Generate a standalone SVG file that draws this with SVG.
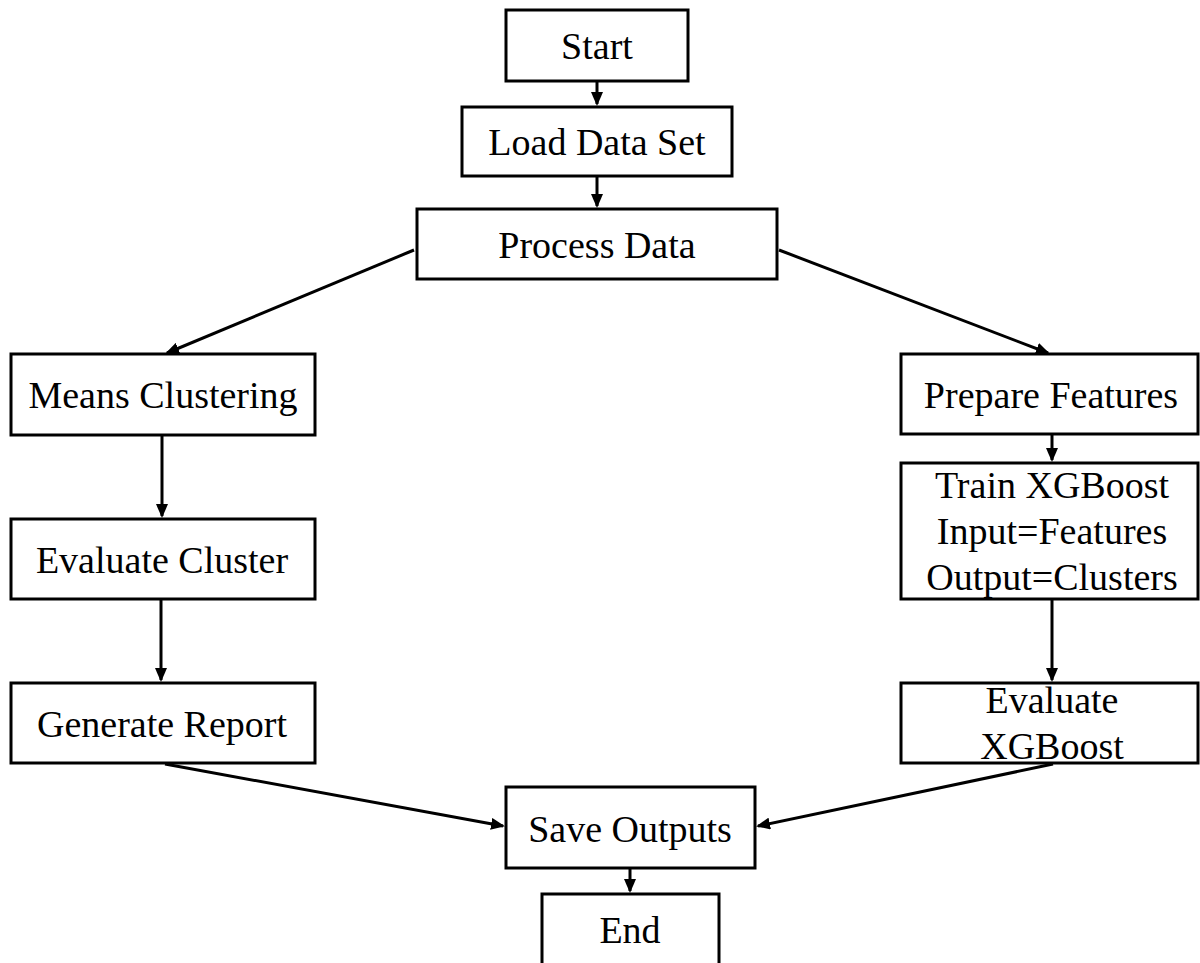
<svg xmlns="http://www.w3.org/2000/svg" width="1200" height="963" viewBox="0 0 1200 963">
<style>
.box{fill:#fff;stroke:#000;stroke-width:3}
.t{font-family:"Liberation Serif","Times New Roman",serif;font-size:38px;fill:#000;text-anchor:middle}
.c{fill:none;stroke:#000;stroke-width:3}
</style>
<defs>
<marker id="ah" viewBox="0 0 14 12" refX="12" refY="6" markerWidth="14" markerHeight="12" markerUnits="userSpaceOnUse" orient="auto">
<path d="M0,0 L14,6 L0,12 z" fill="#000"/>
</marker>
</defs>
<rect width="1200" height="963" fill="#fff"/>
<g id="connectors">
<line class="c" x1="597" y1="82" x2="597" y2="104" marker-end="url(#ah)"/>
<line class="c" x1="597" y1="177" x2="597" y2="206" marker-end="url(#ah)"/>
<line class="c" x1="414" y1="250" x2="167" y2="353" marker-end="url(#ah)"/>
<line class="c" x1="779" y1="250" x2="1048" y2="353" marker-end="url(#ah)"/>
<line class="c" x1="162" y1="436" x2="162" y2="516" marker-end="url(#ah)"/>
<line class="c" x1="161" y1="600" x2="161" y2="680" marker-end="url(#ah)"/>
<line class="c" x1="1052" y1="435" x2="1052" y2="460" marker-end="url(#ah)"/>
<line class="c" x1="1052" y1="600" x2="1052" y2="680" marker-end="url(#ah)"/>
<line class="c" x1="165" y1="764" x2="503" y2="826" marker-end="url(#ah)"/>
<line class="c" x1="1053" y1="764" x2="758" y2="826" marker-end="url(#ah)"/>
<line class="c" x1="630" y1="869" x2="630" y2="891" marker-end="url(#ah)"/>
</g>
<g id="start"><rect class="box" x="506" y="10" width="182" height="71"/><text class="t" x="597" y="59">Start</text></g>
<g id="load"><rect class="box" x="462" y="107" width="270" height="69"/><text class="t" x="597" y="155">Load Data Set</text></g>
<g id="process"><rect class="box" x="417" y="209" width="360" height="70"/><text class="t" x="597" y="258">Process Data</text></g>
<g id="means"><rect class="box" x="11" y="354" width="304" height="81"/><text class="t" x="163" y="408">Means Clustering</text></g>
<g id="evalcluster"><rect class="box" x="11" y="519" width="304" height="80"/><text class="t" x="162" y="573">Evaluate Cluster</text></g>
<g id="report"><rect class="box" x="11" y="683" width="304" height="80"/><text class="t" x="162" y="737">Generate Report</text></g>
<g id="prepare"><rect class="box" x="901" y="354" width="297" height="80"/><text class="t" x="1051" y="408">Prepare Features</text></g>
<g id="train"><rect class="box" x="901" y="463" width="297" height="136"/><text class="t" x="1052" y="498">Train XGBoost</text><text class="t" x="1052" y="544">Input=Features</text><text class="t" x="1052" y="590">Output=Clusters</text></g>
<g id="evalxgb"><rect class="box" x="901" y="683" width="297" height="80"/><text class="t" x="1052" y="713">Evaluate</text><text class="t" x="1052" y="759">XGBoost</text></g>
<g id="save"><rect class="box" x="506" y="787" width="249" height="81"/><text class="t" x="630" y="842">Save Outputs</text></g>
<g id="end"><rect class="box" x="542" y="894" width="177" height="80"/><text class="t" x="630" y="943">End</text></g>
</svg>
